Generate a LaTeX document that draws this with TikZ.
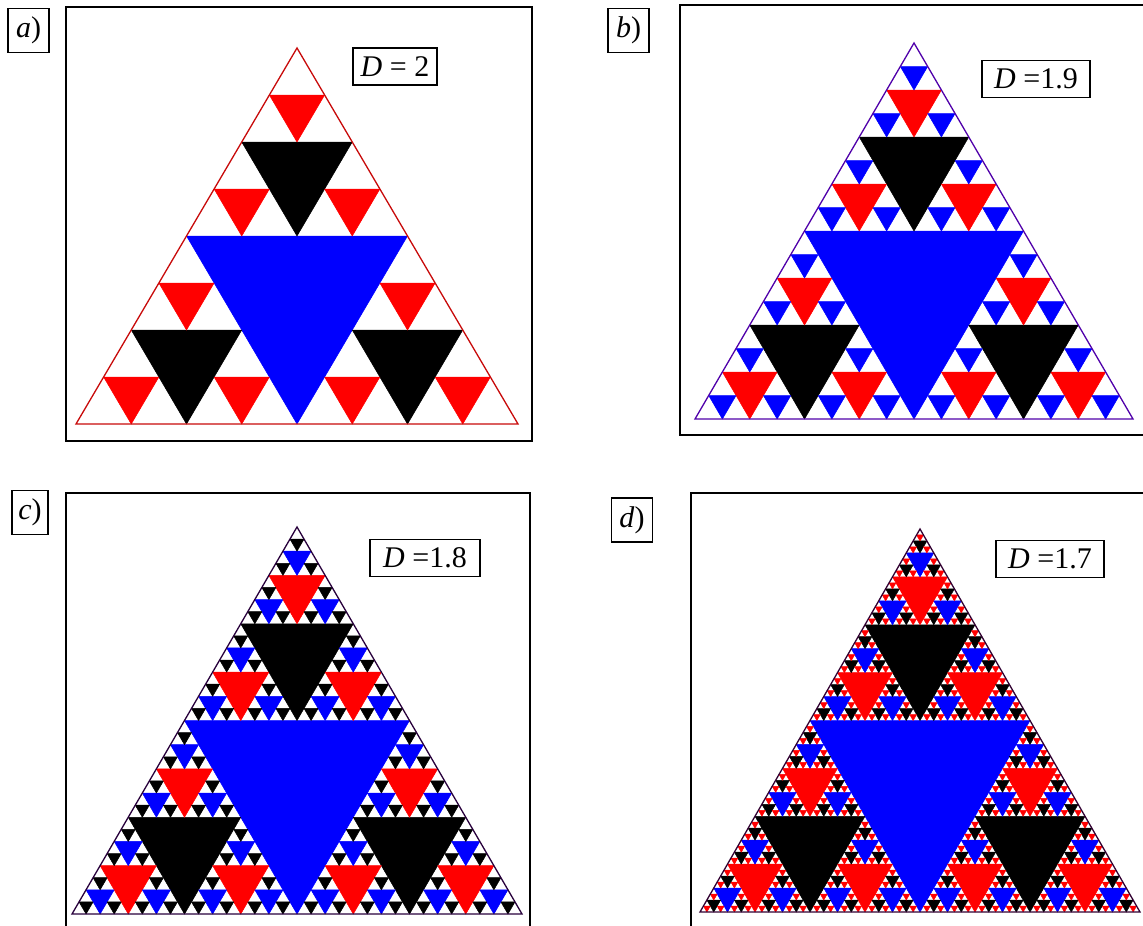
\documentclass[tikz,border=0pt]{standalone}
\usepackage{fontspec}
\setmainfont{Liberation Serif}
\definecolor{sc0}{RGB}{0,0,255}
\definecolor{sc1}{RGB}{0,0,0}
\definecolor{sc2}{RGB}{255,0,0}
\definecolor{olA}{RGB}{200,10,10}
\definecolor{olB}{RGB}{80,0,170}
\definecolor{olC}{RGB}{40,0,60}
\definecolor{olD}{RGB}{50,0,50}
\def\sier#1#2#3#4#5{%
  \ifnum#1>\maxlev\relax\else
    \begingroup
      \pgfmathsetmacro\sqw{#4/4}%
      \pgfmathsetmacro\shw{#4/2}%
      \pgfmathsetmacro\shh{#5/2}%
      \pgfmathsetmacro\sxl{#2-\sqw}%
      \pgfmathsetmacro\sxr{#2+\sqw}%
      \pgfmathsetmacro\sym{#3+\shh}%
      \pgfmathsetmacro\syb{#3+#5}%
      \pgfmathtruncatemacro\sci{mod(#1-1,3)}%
      \pgfmathtruncatemacro\snl{#1+1}%
      \filldraw[sc\sci, line width=0.5pt, line join=round] (\sxl,\sym) -- (\sxr,\sym) -- (#2,\syb) -- cycle;
      \edef\snext{\noexpand\sier{\snl}{#2}{#3}{\shw}{\shh}%
        \noexpand\sier{\snl}{\sxl}{\sym}{\shw}{\shh}%
        \noexpand\sier{\snl}{\sxr}{\sym}{\shw}{\shh}}%
      \snext
    \endgroup
  \fi}
% apex x, apex y, width, height, levels, outline colour
\newcommand\sierpanel[6]{%
  \fill[white] (#1,#2) -- (#1+#3/2,#2+#4) -- (#1-#3/2,#2+#4) -- cycle;
  \def\maxlev{#5}%
  \sier{1}{#1}{#2}{#3}{#4}%
  \draw[#6, line width=1.3pt, line join=miter] (#1,#2) -- (#1+#3/2,#2+#4) -- (#1-#3/2,#2+#4) -- cycle;
}
\tikzset{
  frame/.style={line width=2pt, black},
  tag/.style={draw, line width=1.3pt, inner sep=0pt, minimum width=41pt, minimum height=44pt, font=\fontsize{30}{30}\selectfont},
  dbox/.style={draw, line width=1.3pt, inner sep=0pt, minimum height=37pt, font=\fontsize{30}{30}\selectfont}
}
\begin{document}
\begin{tikzpicture}[x=1pt,y=-1pt]
\useasboundingbox[fill=white] (0,0) rectangle (1143,926);
% panel a
\draw[frame] (66,7) rectangle (532,441);
\sierpanel{297}{48}{442}{376}{3}{olA}
\node[tag] (la) at (28.5,30.5) {\textit{a})};
\node[dbox, minimum width=84pt] (da) at (395,66.5) {\textit{D} = 2};
% panel b
\draw[frame] (1143,5) -- (680,5) -- (680,435) -- (1143,435);
\sierpanel{914}{43}{438}{376}{4}{olB}
\node[tag] (lb) at (628.5,30.5) {\textit{b})};
\node[dbox, minimum width=108pt] (db) at (1036,79) {\textit{D} =1.9};
% panel c
\draw[frame] (66,926) -- (66,493) -- (530,493) -- (530,926);
\sierpanel{297}{527}{450}{387}{5}{olC}
\node[tag, minimum width=36pt] (lc) at (30,512.5) {\textit{c})};
\node[dbox, minimum width=110pt] (dc) at (425,558) {\textit{D} =1.8};
% panel d
\draw[frame] (1143,493) -- (691,493) -- (691,926);
\sierpanel{920}{529}{440}{383}{6}{olD}
\node[tag] (ld) at (632,520) {\textit{d})};
\node[dbox, minimum width=108pt] (dd) at (1050,559) {\textit{D} =1.7};
\end{tikzpicture}
\end{document}
